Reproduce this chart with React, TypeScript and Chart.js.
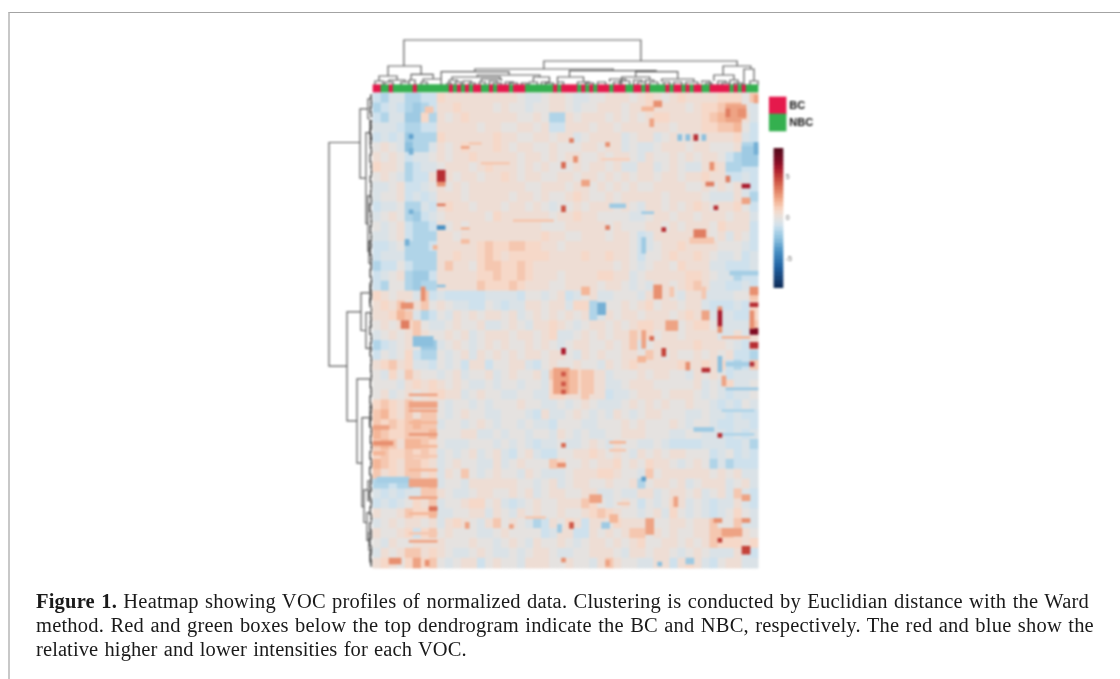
import React, { useEffect, useRef } from "react";
import { Chart, registerables } from "chart.js";

Chart.register(...registerables);

// Heatmap: 96 samples x 240 VOCs. Broad blocks cover 2 samples x 5 VOCs, in half intensity units.
const heatRows: number[][] = [
[-2,-3,-1,-1,-3,-3,-2,-2,2,1,1,1,1,1,1,1,1,1,0,-1,-1,0,1,1,0,-1,-1,0,0,1,1,1,0,1,2,1,0,1,2,1,1,1,1,2,2,2,0,3],
[-3,-2,-1,-2,-3,-4,-3,-2,1,1,2,1,1,1,1,0,1,0,0,-1,0,0,1,1,0,-1,0,0,1,1,1,0,1,1,2,1,1,1,1,0,1,2,2,3,4,4,0,-1],
[-2,-3,-1,-1,-4,-4,2,-3,1,0,1,2,1,1,1,1,1,1,0,0,1,0,-3,-3,1,0,1,1,1,0,1,0,1,0,1,2,2,1,1,1,1,2,3,4,5,5,1,-1],
[-1,-1,-1,-2,-3,-3,-2,-2,1,1,1,1,1,0,1,1,0,0,1,1,0,1,-2,-2,1,1,1,0,1,1,0,1,1,1,1,1,1,0,1,1,1,2,2,3,3,4,0,-2],
[-2,-1,-2,-1,-4,-3,-3,-3,2,1,1,1,1,1,1,2,1,1,0,0,1,1,0,1,1,-1,0,1,1,1,1,-1,0,1,1,-1,0,1,0,1,0,1,1,1,1,2,-1,-2],
[0,1,0,-1,-5,-3,-3,-1,1,0,1,2,1,1,1,2,1,0,1,1,0,0,1,0,0,0,1,1,0,1,1,-1,0,-1,-1,0,1,1,1,0,1,1,0,0,0,1,-3,-3],
[1,0,1,0,-2,-1,-1,0,1,0,1,1,2,1,1,1,1,1,0,1,1,0,1,0,1,1,0,0,1,0,1,1,0,-1,1,0,0,1,0,1,0,1,1,0,-2,-3,-3,-3],
[2,1,1,0,-3,-2,-1,-1,0,1,1,1,0,1,2,1,1,1,0,1,0,1,0,0,0,1,0,1,1,0,1,-1,-1,1,1,-1,0,1,0,-1,-1,1,2,1,-3,-3,-2,-2],
[0,1,0,-1,-3,-2,-2,1,1,1,0,1,1,0,1,1,2,1,0,1,1,0,0,1,1,0,1,1,0,1,0,1,0,1,1,0,1,1,0,1,1,2,1,1,-2,-2,-1,-2],
[-1,-1,0,1,-2,-2,-1,0,1,0,1,0,1,1,1,1,1,1,1,0,0,1,1,1,0,1,1,0,1,0,1,0,1,0,0,1,1,1,1,0,0,1,0,1,0,1,-1,-2],
[-1,0,0,1,-2,-1,-2,-1,1,1,1,0,1,1,1,1,1,0,1,1,0,1,0,0,1,2,1,0,0,1,0,1,1,1,1,1,0,1,1,1,1,0,-1,-1,-1,1,-1,-3],
[-2,-1,-1,0,-3,-3,-1,-2,1,2,1,1,0,1,1,1,0,1,1,0,1,0,-1,0,0,1,0,1,1,1,0,1,0,-1,1,1,0,1,0,1,2,1,0,1,1,2,0,-2],
[-1,0,1,0,-3,-4,-2,-1,0,1,1,1,1,1,0,2,1,1,1,1,1,1,0,1,1,2,1,1,0,0,0,0,-1,-1,0,1,1,0,1,1,0,1,1,1,0,1,1,-1],
[0,-1,0,1,-2,-3,-3,-2,1,0,1,0,1,1,1,1,1,1,1,1,1,0,0,0,1,1,1,1,1,0,1,0,0,0,1,1,0,1,0,1,1,1,0,2,1,1,1,-2],
[-1,-1,0,1,-2,-3,-3,-3,1,1,0,1,1,1,1,1,1,1,1,1,1,2,1,1,0,0,1,1,1,0,1,1,0,-2,-1,1,1,1,1,1,2,1,0,1,-1,1,0,-2],
[-2,-2,-1,0,-3,-3,-3,-2,1,1,1,1,1,2,3,2,2,3,3,2,2,1,1,0,1,1,1,1,1,1,1,1,0,-2,-1,0,1,1,2,1,1,1,1,0,0,0,-1,-2],
[-2,-1,-1,-1,-3,-3,-3,-3,1,1,2,1,1,2,3,2,1,2,2,2,2,2,1,1,1,1,2,1,1,2,1,1,0,-2,0,0,1,2,1,1,2,1,0,-1,-1,0,-2,-1],
[-3,-2,-2,0,-2,-3,-3,-3,1,3,1,1,0,2,3,3,2,2,3,2,1,1,1,1,1,1,1,1,1,1,0,1,0,-1,0,1,1,0,2,1,1,1,-1,-1,-2,-2,-2,-1],
[-2,-1,0,1,-3,-4,-4,-2,1,1,1,1,1,2,2,3,2,2,3,2,1,1,1,0,1,1,1,1,2,2,1,1,-1,0,1,1,1,1,1,2,2,1,0,-1,-1,-3,-2,-2],
[-2,-3,0,0,-3,-4,-3,-3,1,1,1,1,1,3,2,2,2,3,2,1,1,1,0,0,1,1,1,1,0,1,1,0,-1,0,-1,1,1,0,1,2,3,1,-1,-1,-2,-2,-1,-2],
[2,1,0,1,1,-1,3,-2,-1,-2,-2,-2,-2,-2,-1,-1,-1,-1,-2,0,0,-1,0,1,-2,-1,0,1,-1,-1,0,0,0,-1,1,1,1,0,-1,1,1,-1,-1,-1,-1,0,0,3],
[1,2,1,3,0,1,3,0,1,0,-1,-1,-2,-2,0,-1,-2,-1,-1,1,1,0,1,1,-1,2,2,-3,-1,0,0,1,0,1,2,0,1,1,0,1,1,-1,-2,-2,-2,-1,-2,2],
[1,1,2,4,3,-1,-3,-2,0,-1,1,0,1,0,1,1,0,1,-1,0,1,0,1,0,1,0,1,-3,-1,1,0,1,1,0,1,1,1,0,1,2,1,5,-1,-1,-1,-2,-2,2],
[0,1,0,1,2,3,0,-1,-1,0,1,0,0,1,-1,-1,0,1,0,-1,1,1,2,1,0,-1,0,1,1,0,1,0,1,2,2,1,1,1,0,1,2,2,0,-1,-1,-1,-1,3],
[-1,0,1,0,1,3,1,0,0,1,0,1,-1,0,1,1,1,0,1,1,0,1,2,-1,-1,0,1,0,1,0,1,1,3,1,2,0,1,1,0,1,1,1,1,-1,-1,1,-1,1],
[-3,-2,-1,0,1,0,-4,-4,-1,0,1,0,-1,0,1,0,1,0,0,1,0,1,0,-1,0,1,1,0,0,1,0,1,3,-1,0,1,1,1,1,1,2,1,1,1,0,-1,-2,1],
[-2,0,-1,0,2,-2,-3,-3,0,-1,0,1,-1,1,0,1,0,1,0,1,1,0,1,1,0,-1,1,0,1,0,0,1,1,0,3,1,0,1,0,0,1,0,1,0,1,-2,-2,-3],
[1,2,3,1,2,-1,-1,-2,0,-1,0,-2,1,1,-2,0,0,1,1,-1,-2,0,1,0,0,1,0,0,-1,1,0,1,2,1,1,1,1,1,2,1,1,2,1,2,-2,-3,-2,3],
[0,-1,2,0,3,1,0,0,-1,0,1,-1,0,0,1,-1,0,1,0,0,1,-1,3,3,3,2,3,1,1,-1,0,0,0,1,0,1,1,0,0,-1,1,0,1,0,-2,-1,-1,-1],
[0,0,0,-1,1,2,1,2,1,0,1,0,-1,-1,0,-1,0,0,-1,0,0,-1,2,3,3,2,2,1,1,-1,-1,0,1,1,1,0,0,0,0,0,1,-1,0,-1,2,-1,-1,0],
[0,1,-1,0,1,0,1,2,2,1,1,-1,0,1,0,0,-1,-1,0,0,-1,-1,2,2,1,1,3,1,1,-2,-1,-1,0,1,1,1,0,1,1,1,0,-1,0,-1,-2,-1,-1,0],
[2,3,2,1,3,1,1,1,0,-1,0,0,-1,0,-1,0,0,0,1,0,0,-1,-1,0,-1,0,1,0,-1,-1,-1,0,1,0,1,0,1,0,0,1,0,0,-1,-2,-1,-2,0,-1],
[3,4,2,1,3,1,3,3,0,-1,0,1,0,0,-1,-1,0,0,0,-1,-2,1,-1,-1,0,1,0,-1,0,-1,1,0,-1,0,1,1,0,0,0,-1,-1,0,-1,-1,-2,-1,-2,-2],
[3,2,3,2,3,4,3,3,-1,0,0,-1,0,1,0,-1,0,0,-1,0,-1,-1,-2,0,0,0,-1,-1,0,0,0,1,0,1,0,0,0,1,0,-1,0,0,-1,-2,-2,-1,-1,-2],
[4,3,2,2,3,3,3,4,0,0,0,1,1,-1,-1,0,-1,0,0,-1,0,0,-1,1,0,-1,0,-1,-1,0,0,1,1,1,0,0,0,-1,-1,0,0,-1,-1,-1,-2,-1,-2,-1],
[3,4,3,1,4,4,3,2,0,-1,-1,-1,0,0,0,-1,0,-1,0,-1,-2,-1,-1,0,-1,-1,0,1,0,-1,1,0,0,-1,-1,0,-1,-2,-2,-2,-2,-1,-1,-1,-2,-2,-1,-3],
[2,3,2,2,3,2,3,2,-1,0,-1,0,1,-1,0,1,-1,-2,0,1,-1,-2,-2,0,0,1,1,2,1,0,1,0,-1,1,0,1,0,1,1,0,0,0,-2,-1,0,-2,-1,-2],
[4,3,2,1,3,3,2,1,-1,0,1,0,0,-1,-1,1,-1,0,1,0,0,0,3,2,0,0,1,0,1,1,2,0,1,0,2,1,1,0,-1,0,1,0,-3,-1,-3,-2,-2,-2],
[3,1,2,1,3,3,1,2,-1,1,0,3,0,-1,0,1,0,0,-1,1,0,-1,-1,-1,0,1,1,1,2,2,1,0,0,-1,3,0,1,1,1,1,1,1,0,1,0,1,-1,-1],
[-3,-3,-2,-3,-3,-2,3,4,-1,0,0,-1,1,1,1,1,1,1,0,0,-1,0,1,-1,0,1,1,0,0,1,0,0,1,-3,0,1,1,0,1,-1,0,1,1,1,-1,0,1,-1],
[-1,-2,-1,-2,-1,-1,3,3,1,0,-1,-1,0,1,1,0,0,1,0,1,-1,0,1,1,0,0,1,1,-1,-1,0,-1,-1,1,1,-1,0,1,1,0,1,-1,0,1,-1,3,-1,-2],
[-2,-1,-2,-1,0,2,1,3,-1,0,0,1,2,2,0,1,-1,-2,-1,0,1,0,0,1,1,1,3,2,0,-1,0,1,0,-2,0,-1,0,2,1,-1,0,-1,-2,-1,-1,1,-1,-2],
[1,0,0,1,3,2,2,4,-1,-1,0,0,1,1,-1,1,0,-1,1,0,1,0,0,1,0,0,1,2,3,2,1,0,0,-1,0,1,-1,2,0,-1,0,-1,-2,-1,0,2,0,-1],
[-1,0,1,0,1,1,0,1,-1,1,2,1,0,-1,1,3,0,1,0,-1,-3,-2,1,0,2,1,-2,1,1,0,2,1,1,1,-1,0,0,1,1,0,1,1,3,0,0,3,-1,-1],
[1,0,0,1,2,-2,2,3,0,1,0,0,0,-1,-1,0,1,0,0,0,0,-2,-1,1,1,-2,-2,1,0,1,0,1,3,3,0,1,0,1,0,0,1,1,3,3,3,1,1,0],
[0,-1,1,0,0,1,1,1,1,0,0,0,1,0,0,-1,0,1,0,-1,1,0,0,1,0,-1,0,1,1,0,1,0,1,2,0,0,1,1,0,1,0,1,3,2,2,2,1,2],
[-1,1,0,1,3,3,1,2,1,0,-1,-1,0,1,0,-1,-1,0,-1,0,1,1,0,-1,-1,0,0,1,1,1,0,-1,1,1,0,1,1,0,-1,0,1,0,-1,-1,-1,1,-1,-2],
[1,2,1,0,2,5,2,3,0,-1,0,1,1,-2,0,1,0,0,-1,1,1,1,0,0,1,0,0,-1,1,3,1,0,0,-1,-1,1,1,-2,1,2,1,-1,-2,0,1,1,-1,-1],
];

// Outlying cells and thin streaks: [sample, voc, samples wide, vocs tall, intensity]
const heatSpots: number[][] = [
[35,64,10,1,1.5],[9,152,7,1,2.5],[9,160,7,1,2.5],[9,166,7,1,2],[9,172,7,1,2.8],[9,178,7,1,2],[9,183,7,1,1.5],
[0,168,4,2,2.5],[0,176,5,2,3],[0,181,3,2,2],[9,190,7,1,2],[9,204,7,1,2.5],[9,212,7,1,2],[9,222,7,1,1.5],[9,226,7,1,2.5],
[88,149,8,1,-2],[87,160,8,1,-1.5],[87,172,8,1,-1.5],[87,123,7,1,2],[88,136,7,2,-1.8],[89,90,7,2,-1.8],[59,56,4,2,-2],
[67,60,3,1,-2],[22,68,2,1,2],[22,74,2,2,1.8],[59,213,2,4,2],[61,207,3,1,1.5],[38,214,5,1,1.5],[59,176,4,1,2],[59,180,4,1,1.5],
[80,169,5,2,-2],[27,35,7,1,1.5],[24,25,3,1,1.5],[57,33,7,1,1.2],
[16,39,2,6,5.5],[16,45,2,2,3],[79,73,6,3,1.5],[80,69,3,4,3.5],[45,139,4,13,2.5],[49,140,2,12,1.8],[52,140,3,12,1.5],
[47,141,1,2,4.5],[47,146,1,2,4.5],[47,150,1,2,4.5],[47,129,1,3,6],[86,108,1,2,3],[86,110,1,8,6],[86,118,1,3,3],
[94,110,1,9,3],[94,119,2,3,7],[94,126,2,3,5.5],[94,136,1,2,5.5],[70,97,2,7,3],[52,44,2,3,2.5],[47,57,1,3,4.5],
[58,67,1,2,3.5],[72,68,1,2,5.5],[85,57,1,2,5.5],[92,46,2,2,6],[83,45,2,2,3.5],[88,42,1,3,3.5],[92,53,2,3,2.5],
[52,98,2,4,2],[56,106,2,6,-3],[67,73,1,8,-2],[74,98,1,5,1.5],[94,98,2,4,3],[94,106,2,2,5.5],[82,98,1,6,1.5],
[70,4,2,3,3],[67,7,3,2,2],[80,21,1,3,5.5],[76,21,1,3,-2.5],[78,21,1,3,-2.5],[82,21,1,3,-2.5],[69,13,1,4,2.5],
[49,23,1,2,3.5],[58,25,1,2,3],[50,32,1,3,3],[47,35,1,3,4],[84,35,1,4,3],[88,6,5,7,2.5],[88,8,1,4,3.5],[91,8,2,4,3],
[95,1,1,4,2.5],[92,27,4,10,-2],[95,25,1,6,-3],[9,21,1,2,-3.5],[9,28,1,3,-3],[13,7,2,3,1.5],[22,27,2,1,2.5],
[16,56,2,1,3.5],[16,67,2,2,-4],[16,97,2,1,-2.5],[12,98,1,7,3],[9,59,1,2,-3],[8,74,1,3,-3],[15,77,1,2,2],
[7,106,3,3,3],[7,115,2,4,3.5],[10,123,5,5,-2.5],[9,156,7,3,2.5],[1,194,8,3,-1.8],[9,195,7,4,2.5],[14,209,2,2,3.8],
[4,235,3,3,3],[13,236,1,3,3],[23,217,1,3,2.5],[34,218,1,2,2.5],[46,218,1,4,-2],[46,187,2,2,3],[54,203,3,4,2.5],
[49,217,1,3,4.5],[67,194,1,2,-3.5],[87,220,5,4,2.5],[92,229,2,4,5],[86,225,1,2,5],[85,215,2,2,3],[92,215,2,2,3],
[92,203,2,3,2.5],[68,215,2,8,2.5],[75,204,1,5,2.5],[58,236,1,3,2.5],[47,235,1,2,3],[71,237,1,2,-2.5],[78,235,2,3,-2],
[57,217,2,3,-2],[67,120,1,9,2.5],[69,123,1,2,4],[72,129,1,4,5],[73,115,3,5,2.5],[66,133,2,3,2],[78,136,1,4,3],
[82,139,2,2,5.5],[47,177,1,2,4],[86,172,1,2,5.5],[87,143,1,5,2.5],[86,133,1,8,-2.5],
];

const groupCategories = ["BC", "NBC"];
const groupColors = ["#e5194c", "#34b04f"];
// Runs along the top: [group index, samples]
const sampleGroupRuns = [
[0,2],[1,2],[0,1],[1,5],[0,1],[1,8],[0,1],[1,1],[0,1],[1,1],[0,1],[1,1],[0,2],[1,2],[0,1],[1,1],[0,3],[1,1],[0,3],[1,7],
[0,1],[1,1],[0,4],[1,1],[0,1],[1,1],[0,1],[1,1],[0,3],[1,1],[0,3],[1,2],[0,2],[1,1],[0,1],[1,4],[0,1],[1,1],[0,2],[1,1],
[0,1],[1,1],[0,2],[1,2],[0,5],[1,1],[0,1],[1,1],[0,1],[1,3],
];

// Dendrogram merges: [position A, height A, position B, height B, merge height]
const topMerges: number[][] = [
[7.7,19,66.8,24,45],[3.75,9,12,10.7,19],[42.6,16,90.8,19,24],[25.4,13.3,59.9,14.3,16],[17,0,33.9,10,13.3],[26,8,41.6,8,10],
[19.7,5,31.7,6,8],[40,3,44,3,8],[49,8,70.6,13.3,14.3],[46,3,52.5,3,8],[65.5,8,76,6,13.3],[87.3,10,94.2,16,19],[92.5,0,95,4,16],
[94,0,96,0,4],[85,4,90,5,10],[1.5,4,6,5,9],[0.5,0,2.5,0,4],[4,3,8,3,5],[3,0,5,0,3],[7,0,9,0,3],[9.5,5,15,6,10.7],[9,0,10.5,0,5],
[12.5,3,17,0,6],[12,0,13.5,0,3],[19,2,21,3,5],[18.5,0,19.5,0,2],[20.5,0,22,0,3],[22.5,0,24.5,2,4],[24,0,25.5,0,2],[27,3,32,4,6],
[26.5,0,28,0,3],[29,0,31,2,4],[30,0,32,0,2],[33,0,35,2,3],[34,0,36,0,2],[37,0,38.5,0,2],[39,0,41,0,3],[42,0,44,2,3],[43,0,45,0,2],
[46,0,47.5,0,3],[51,0,54,2,3],[53,0,55,0,2],[56,0,58,0,3],[59,3,63,4,6],[60,0,62,0,3],[61.5,0,64,0,4],[62,3,69,5,8],[65,0,67,3,5],
[66,0,68,0,3],[68,0,70,3,5],[69,0,71,0,3],[72,3,80,3,6],[72.5,0,74,0,3],[75,0,77,0,3],[78,0,81,0,3],[82,2,84,0,4],[83,0,84.5,0,2],
[86,0,88,2,4],[87,0,89,0,2],[89,2,91,0,5],[90,0,92,0,2],
];
const leftMerges: number[][] = [
[25,12,138,25,43],[8,4,43,6,12],[3,1.5,13,2,4],[20,2,66,4,6],[14,1,26,1.5,2],[52,1.5,80,3,4],[75,1,86,1,3],[110.6,11,165.7,15,25],
[101,2,120,6,11],[111,2,129,2,6],[96,1,106,1,2],[144.4,1,187,10,15],[164,2,209,8,10],[200.5,4,217,5,8],[196,1.5,206,1.5,4],
[212,1.5,226,3,5],[222,1,231,1,3],[158,1,168,1,2],[232,1,237,0.5,2],
];
// Tight clusters next to the heatmap: [VOC A, VOC B, merge height]
const leftFringe: number[][] = [
[1,3,1.2],[4,6,0.8],[7,10,1.5],[11,12,0.7],[14,17,1.1],[18,21,1.6],[22,24,0.6],[25,28,1.4],[29,30,0.8],[31,35,1.9],[36,38,1],[39,41,0.6],
[42,45,1.7],[46,48,0.9],[49,53,1.3],[54,55,0.7],[56,60,2],[61,63,1],[64,66,0.7],[67,71,1.5],[72,73,0.8],[74,77,1.2],[78,82,1.7],[83,85,0.7],
[86,88,1],[89,93,1.8],[94,96,0.6],[97,100,1.4],[101,103,0.8],[104,108,1.9],[109,110,0.6],[111,114,1.2],[115,117,1.4],[118,122,2],[123,125,0.7],
[126,129,1.5],[130,133,1.8],[134,136,0.8],[137,141,1.2],[142,144,0.7],[145,149,1.6],[150,152,0.9],[153,157,1.9],[158,160,0.7],[161,164,1.3],
[165,169,2],[170,172,0.8],[173,177,1.5],[178,180,0.7],[181,185,1.9],[186,188,0.8],[189,193,2.2],[194,196,1],[197,200,1.5],[201,205,2.2],
[206,208,0.8],[209,213,1.8],[214,216,0.7],[217,221,1.9],[222,224,1],[225,229,2],[230,232,0.8],[233,236,1.5],[237,239,1],
];

// Colour key
const keyBands = [-8.5,-8,-7.5,-7,-6.5,-6,-5.5,-5,-4.5,-4,-3.5,-3,-2.5,-2,-1.5,-1,-0.5,0,0.5,1,1.5,2,2.5,3,3.5,4,4.5,5,5.5,6,6.5,7,7.5,8];
const keyTicks = [5, 0, -5];
const colorStops: [number, number[]][] = [
[-8.5,[12,40,84]],[-6,[31,96,160]],[-4,[72,144,196]],[-2.5,[140,192,222]],[-1.5,[176,212,232]],[-1,[206,225,237]],[0,[229,226,224]],
[1,[246,216,200]],[2,[244,182,152]],[3,[232,144,112]],[4,[216,106,82]],[5,[196,66,58]],[6,[170,26,44]],[7,[126,10,34]],[8.3,[88,10,28]],
];

function colorOf(v: number): string {
  if (v <= colorStops[0][0]) return `rgb(${colorStops[0][1].join(",")})`;
  for (let i = 1; i < colorStops.length; i++) {
    const [b, cb] = colorStops[i];
    const [a, ca] = colorStops[i - 1];
    if (v <= b) {
      const t = (v - a) / (b - a);
      return `rgb(${ca.map((c, k) => Math.round(c + (cb[k] - c) * t)).join(",")})`;
    }
  }
  return `rgb(${colorStops[colorStops.length - 1][1].join(",")})`;
}

function mergeLines(merges: number[][], flip: boolean) {
  const pts: { x: number; y: number }[] = [];
  const add = (p: number, h: number) => pts.push(flip ? { x: h, y: p } : { x: p, y: h });
  merges.forEach(([a, ha, b, hb, top]) => {
    add(a, ha); add(a, top); add(b, top); add(b, hb);
    pts.push({ x: NaN, y: NaN });
  });
  return pts;
}

const captionLines: [string, string, number][] = [
  ["Figure 1.", " Heatmap showing VOC profiles of normalized data. Clustering is conducted by Euclidian distance with the Ward", 0.2],
  ["", "method. Red and green boxes below the top dendrogram indicate the BC and NBC, respectively. The red and blue show the", 0.21],
  ["", "relative higher and lower intensities for each VOC.", 0.1],
];

const textPlugin = {
  id: "keyText",
  afterDatasetsDraw(chart: any) {
    const { ctx, scales } = chart;
    ctx.save();
    ctx.textBaseline = "middle";
    ctx.fillStyle = "#111";
    ctx.font = "bold 11px 'Liberation Sans', Arial, sans-serif";
    groupCategories.forEach((name, i) => {
      ctx.fillText(name, scales.x.getPixelForValue(103.8), scales.y.getPixelForValue(6.4 + i * 8.6));
    });
    ctx.fillStyle = "#666";
    ctx.font = "7px 'Liberation Sans', Arial, sans-serif";
    keyTicks.forEach((t) => {
      ctx.fillText(String(t), scales.x.getPixelForValue(102.9), scales.k.getPixelForValue(t));
    });
    ctx.restore();
  },
};

export default function App() {
  const ref = useRef<HTMLCanvasElement>(null);
  useEffect(() => {
    const W = 1120, H = 679;
    const colPx = 385 / 96, rowPx = 475 / 240;
    const left = 373, top = 93;
    const datasets: any[] = [];
    const bar = (data: any[], colors: string[], widthCols: number, extra: any = {}) =>
      datasets.push({ type: "bar", data, backgroundColor: colors, barThickness: widthCols * colPx, borderWidth: 0, grouped: false, xAxisID: "x", yAxisID: "y", ...extra });

    // base behind the cells
    bar([{ x: 48, y: [0, 240] }], ["#e4e0dd"], 96);
    // broad blocks
    const blocks: any[] = [];
    const blockColors: string[] = [];
    heatRows.forEach((row, r) =>
      row.forEach((v, c) => {
        blocks.push({ x: 2 * c + 1, y: [5 * r, 5 * r + 5] });
        blockColors.push(colorOf(v * 0.5));
      })
    );
    bar(blocks, blockColors, 2);
    // outliers and streaks, grouped by width; first-listed streaks lie under the hot cells
    Array.from(new Set(heatSpots.map((s) => s[2]))).sort((a, b) => b - a).forEach((w) => {
      const spots = heatSpots.filter((s) => s[2] === w);
      bar(spots.map(([c, r, sw, h]) => ({ x: c + sw / 2, y: [r, r + h] })), spots.map((s) => colorOf(s[4])), w);
    });
    // group strip
    let cursor = 0;
    sampleGroupRuns.forEach(([g, n]) => {
      bar([{ x: cursor + n / 2, y: [-4.2, -0.5] }], [groupColors[g]], n);
      cursor += n;
    });
    // legend boxes
    groupCategories.forEach((_, i) => {
      bar([{ x: 100.9, y: [2 + i * 8.6, 10.6 + i * 8.6] }], [groupColors[i]], 4.2);
    });
    // colour key
    bar(keyBands.map((v) => ({ x: 101.1, y: [v, v + 0.5] })), keyBands.map((v) => colorOf(v + 0.25)), 2.25, { yAxisID: "k" });
    // dendrograms
    const line = { type: "scatter", showLine: true, pointRadius: 0, borderColor: "#5a5a5a", borderWidth: 1.2, spanGaps: false };
    datasets.push({ ...line, data: mergeLines(topMerges, false), xAxisID: "x", yAxisID: "h" });
    datasets.push({ ...line, data: mergeLines(leftMerges, true), xAxisID: "w", yAxisID: "y" });
    datasets.push({
      ...line,
      data: mergeLines(leftFringe.map(([a, b, t]) => [a, 0, b, 0, t]), true),
      xAxisID: "w", yAxisID: "y", borderColor: "#222",
    });
    // later layers sit on top
    datasets.forEach((d, i) => { d.order = datasets.length - i; });

    const hidden = { display: false, offset: false, grid: { display: false } };
    const chart = new Chart(ref.current as HTMLCanvasElement, {
      data: { datasets },
      plugins: [textPlugin],
      options: {
        animation: false,
        responsive: false,
        layout: { padding: 0 },
        plugins: { legend: { display: false }, tooltip: { enabled: false } },
        scales: {
          x: { ...hidden, type: "linear", axis: "x", min: -left / colPx, max: (W - left) / colPx },
          y: { ...hidden, type: "linear", axis: "y", reverse: true, min: -top / rowPx, max: (H - top) / rowPx },
          h: { ...hidden, type: "linear", axis: "y", min: 85 - H, max: 85 },
          w: { ...hidden, type: "linear", axis: "x", reverse: true, min: 372 - W, max: 372 },
          k: { ...hidden, type: "linear", axis: "y", min: (218 - H) / 8.2, max: 218 / 8.2 },
        },
      } as any,
    } as any);
    return () => chart.destroy();
  }, []);

  return (
    <div style={{ position: "fixed", inset: 0, overflow: "hidden", background: "#fff" }}>
      <div style={{ position: "absolute", left: 8, top: 12, right: 0, bottom: 0, borderTop: "1px solid #a3a3a3", borderLeft: "2px solid #c8c8c8" }} />
      <canvas ref={ref} width={1120} height={679} style={{ position: "absolute", left: 0, top: 0, width: 1120, height: 679, filter: "blur(0.8px)" }} />
      {captionLines.map(([bold, rest, spacing], i) => (
        <div key={i} style={{ position: "absolute", left: 36, top: 589 + i * 24, whiteSpace: "nowrap", fontFamily: "'Liberation Serif', serif", fontSize: 20.5, letterSpacing: `${spacing}px`, wordSpacing: "1px", lineHeight: "24px", color: "#1a1a1a" }}>
          {bold ? <b>{bold}</b> : null}{rest}
        </div>
      ))}
    </div>
  );
}
